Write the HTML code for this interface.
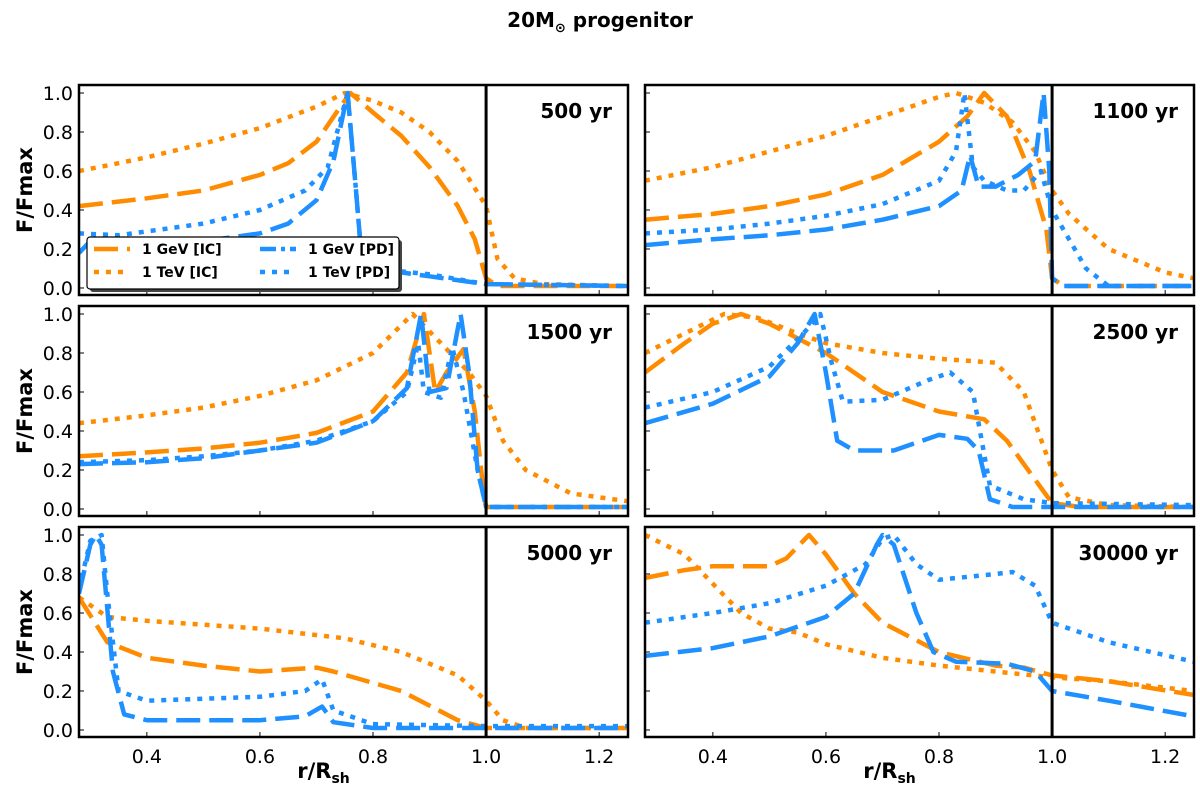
<!DOCTYPE html>
<html><head><meta charset="utf-8"><style>
html,body{margin:0;padding:0;background:#fff;width:1200px;height:794px;overflow:hidden}
svg{display:block;font-family:"DejaVu Sans","Liberation Sans",sans-serif}
</style></head><body>
<svg id="fig" width="1200" height="794"></svg>
<script>
// ---- data (r/Rsh and F/Fmax) ----
const panelTitles=["500","1100","1500","2500","5000","30000"];
const xTicks=[0.4,0.6,0.8,1.0,1.2];
const yTicks=[0.0,0.2,0.4,0.6,0.8,1.0];
// 500 yr
const a_gIC_r=[0.28,0.4,0.5,0.6,0.65,0.7,0.74,0.76,0.8,0.85,0.9,0.95,0.98,1.0,1.02,1.25];
const a_gIC_f=[0.42,0.46,0.5,0.58,0.64,0.75,0.92,1.0,0.9,0.78,0.62,0.42,0.25,0.05,0.01,0.01];
const a_tIC_r=[0.28,0.35,0.4,0.5,0.6,0.7,0.75,0.8,0.85,0.9,0.95,1.0,1.02,1.05,1.1,1.25];
const a_tIC_f=[0.6,0.64,0.67,0.74,0.82,0.93,1.0,0.96,0.9,0.8,0.65,0.42,0.15,0.05,0.02,0.01];
const a_gPD_r=[0.28,0.3,0.4,0.5,0.6,0.65,0.7,0.73,0.755,0.77,0.78,0.8,0.9,1.0,1.25];
const a_gPD_f=[0.18,0.24,0.22,0.24,0.28,0.33,0.45,0.65,1.0,0.5,0.15,0.1,0.06,0.02,0.01];
const a_tPD_r=[0.28,0.35,0.4,0.5,0.6,0.68,0.72,0.755,0.77,0.78,0.8,0.9,1.0,1.25];
const a_tPD_f=[0.28,0.27,0.29,0.33,0.4,0.5,0.62,1.0,0.5,0.14,0.1,0.07,0.02,0.01];
// 1100 yr
const b_gIC_r=[0.28,0.4,0.5,0.6,0.7,0.8,0.85,0.88,0.92,0.96,0.99,1.0,1.02,1.25];
const b_gIC_f=[0.35,0.38,0.42,0.48,0.58,0.75,0.88,1.0,0.88,0.6,0.3,0.05,0.01,0.01];
const b_tIC_r=[0.28,0.4,0.5,0.6,0.7,0.8,0.83,0.88,0.93,0.97,1.0,1.03,1.1,1.2,1.25];
const b_tIC_f=[0.55,0.62,0.7,0.78,0.88,0.98,1.0,0.95,0.85,0.7,0.5,0.38,0.2,0.08,0.05];
const b_gPD_r=[0.28,0.4,0.5,0.6,0.7,0.8,0.84,0.855,0.87,0.9,0.94,0.97,0.985,0.995,1.0,1.02,1.25];
const b_gPD_f=[0.22,0.25,0.27,0.3,0.35,0.42,0.5,0.68,0.52,0.52,0.58,0.65,1.0,0.6,0.05,0.01,0.01];
const b_tPD_r=[0.28,0.4,0.5,0.6,0.7,0.8,0.83,0.845,0.86,0.88,0.92,0.95,0.98,1.0,1.03,1.06,1.1,1.25];
const b_tPD_f=[0.28,0.3,0.33,0.37,0.43,0.55,0.7,1.0,0.62,0.55,0.5,0.5,0.6,0.4,0.25,0.1,0.01,0.01];
// 1500 yr
const c_gIC_r=[0.28,0.4,0.5,0.6,0.7,0.8,0.86,0.89,0.91,0.93,0.96,0.98,0.995,1.0,1.25];
const c_gIC_f=[0.27,0.29,0.31,0.34,0.39,0.5,0.7,1.0,0.6,0.7,0.82,0.5,0.1,0.01,0.01];
const c_tIC_r=[0.28,0.4,0.5,0.6,0.7,0.8,0.87,0.92,0.97,1.0,1.03,1.07,1.15,1.25];
const c_tIC_f=[0.44,0.48,0.52,0.58,0.66,0.8,1.0,0.85,0.7,0.58,0.35,0.2,0.08,0.04];
const c_gPD_r=[0.28,0.4,0.5,0.6,0.7,0.8,0.86,0.885,0.9,0.93,0.955,0.97,0.985,1.0,1.25];
const c_gPD_f=[0.23,0.24,0.26,0.3,0.34,0.45,0.62,1.0,0.6,0.62,1.0,0.7,0.2,0.01,0.01];
const c_tPD_r=[0.28,0.4,0.5,0.6,0.7,0.8,0.86,0.88,0.89,0.92,0.94,0.96,0.985,1.0,1.25];
const c_tPD_f=[0.24,0.25,0.27,0.3,0.35,0.45,0.6,0.85,0.6,0.57,0.83,0.6,0.2,0.01,0.01];
// 2500 yr
const d_gIC_r=[0.28,0.35,0.4,0.45,0.5,0.6,0.7,0.8,0.88,0.92,0.97,1.0,1.05,1.25];
const d_gIC_f=[0.7,0.85,0.95,1.0,0.95,0.8,0.6,0.5,0.46,0.35,0.15,0.03,0.01,0.01];
const d_tIC_r=[0.28,0.35,0.42,0.48,0.55,0.6,0.7,0.8,0.9,0.95,1.0,1.03,1.1,1.25];
const d_tIC_f=[0.8,0.9,1.0,0.98,0.9,0.85,0.8,0.77,0.75,0.6,0.2,0.06,0.02,0.01];
const d_gPD_r=[0.28,0.4,0.5,0.55,0.58,0.6,0.62,0.65,0.72,0.8,0.85,0.87,0.89,0.93,1.25];
const d_gPD_f=[0.44,0.54,0.68,0.85,1.0,0.7,0.35,0.3,0.3,0.38,0.36,0.3,0.05,0.01,0.01];
const d_tPD_r=[0.28,0.4,0.5,0.56,0.59,0.61,0.63,0.7,0.78,0.82,0.86,0.89,0.95,1.0,1.25];
const d_tPD_f=[0.52,0.6,0.73,0.9,1.0,0.75,0.55,0.56,0.66,0.7,0.6,0.12,0.05,0.03,0.02];
// 5000 yr
const e_gIC_r=[0.28,0.33,0.4,0.5,0.6,0.7,0.73,0.85,0.95,1.0,1.25];
const e_gIC_f=[0.68,0.45,0.37,0.33,0.3,0.32,0.3,0.2,0.05,0.01,0.01];
const e_tIC_r=[0.28,0.33,0.4,0.6,0.75,0.85,0.95,1.0,1.03,1.07,1.25];
const e_tIC_f=[0.68,0.58,0.56,0.52,0.47,0.4,0.28,0.15,0.05,0.01,0.01];
const e_gPD_r=[0.28,0.3,0.31,0.32,0.34,0.36,0.4,0.6,0.68,0.71,0.73,0.8,1.25];
const e_gPD_f=[0.7,0.95,1.0,0.95,0.3,0.08,0.05,0.05,0.07,0.12,0.04,0.01,0.01];
const e_tPD_r=[0.28,0.3,0.32,0.33,0.35,0.4,0.6,0.68,0.71,0.73,0.8,1.0,1.25];
const e_tPD_f=[0.72,0.97,1.0,0.7,0.2,0.15,0.17,0.2,0.26,0.1,0.03,0.02,0.02];
// 30000 yr
const f_gIC_r=[0.28,0.35,0.4,0.5,0.53,0.57,0.6,0.65,0.7,0.8,0.9,0.95,1.0,1.1,1.25];
const f_gIC_f=[0.78,0.82,0.84,0.84,0.88,1.0,0.9,0.7,0.55,0.4,0.33,0.32,0.28,0.25,0.18];
const f_tIC_r=[0.28,0.35,0.4,0.45,0.5,0.55,0.6,0.7,0.8,0.9,1.0,1.1,1.25];
const f_tIC_f=[1.0,0.9,0.75,0.6,0.52,0.5,0.44,0.37,0.33,0.3,0.27,0.25,0.2];
const f_gPD_r=[0.28,0.4,0.5,0.6,0.65,0.69,0.7,0.72,0.76,0.79,0.83,0.92,0.97,1.0,1.1,1.25];
const f_gPD_f=[0.38,0.42,0.48,0.58,0.7,0.95,1.0,0.95,0.6,0.4,0.35,0.34,0.3,0.2,0.15,0.07];
const f_tPD_r=[0.28,0.4,0.5,0.6,0.67,0.7,0.72,0.76,0.8,0.9,0.93,0.97,1.0,1.1,1.25];
const f_tPD_f=[0.55,0.6,0.65,0.74,0.85,0.98,1.0,0.85,0.77,0.8,0.81,0.74,0.55,0.45,0.35];

const panelSeries=[
 [[a_gIC_r,a_gIC_f],[a_tIC_r,a_tIC_f],[a_gPD_r,a_gPD_f],[a_tPD_r,a_tPD_f]],
 [[b_gIC_r,b_gIC_f],[b_tIC_r,b_tIC_f],[b_gPD_r,b_gPD_f],[b_tPD_r,b_tPD_f]],
 [[c_gIC_r,c_gIC_f],[c_tIC_r,c_tIC_f],[c_gPD_r,c_gPD_f],[c_tPD_r,c_tPD_f]],
 [[d_gIC_r,d_gIC_f],[d_tIC_r,d_tIC_f],[d_gPD_r,d_gPD_f],[d_tPD_r,d_tPD_f]],
 [[e_gIC_r,e_gIC_f],[e_tIC_r,e_tIC_f],[e_gPD_r,e_gPD_f],[e_tPD_r,e_tPD_f]],
 [[f_gIC_r,f_gIC_f],[f_tIC_r,f_tIC_f],[f_gPD_r,f_gPD_f],[f_tPD_r,f_tPD_f]]
];
const seriesNames=["gev-ic","tev-ic","gev-pd","tev-pd"];
const ORANGE="#ff8c00",BLUE="#1e90ff";
const seriesColor=[ORANGE,ORANGE,BLUE,BLUE];
const seriesDash=["24,9","5,7","24,9","5,7"];

const NS="http://www.w3.org/2000/svg";
const svg=document.getElementById('fig');
function mk(tag,attrs,parent){const e=document.createElementNS(NS,tag);for(const k in attrs)e.setAttribute(k,attrs[k]);(parent||svg).appendChild(e);return e;}

const XMIN=0.28,XMAX=1.251,YMIN=-0.036,YMAX=1.041;
const PW=549,PH=210;
const lefts=[79,645],tops=[85,306,527];

let t=mk('text',{x:600,y:27,'text-anchor':'middle','font-size':20,'font-weight':'bold'});


t.innerHTML='20M<tspan font-size="13" dy="5">⊙</tspan><tspan dy="-5"> progenitor</tspan>';

panelSeries.forEach((series,i)=>{
  const col=i%2,row=Math.floor(i/2);
  const L=lefts[col],T=tops[row];
  const sx=v=>L+(v-XMIN)/(XMAX-XMIN)*PW;
  const sy=v=>T+PH-(v-YMIN)/(YMAX-YMIN)*PH;
  const g=mk('g',{});
  
  
  const cid='clip'+i;
  const cp=mk('clipPath',{id:cid},g);mk('rect',{x:L,y:T,width:PW,height:PH},cp);
  xTicks.forEach(v=>{
    const x=sx(v);
    const tk=mk('line',{x1:x,x2:x,y1:T+PH,y2:T+PH-5,stroke:'#000','stroke-width':1},g);
    
    
    if(row===2){
      const tl=mk('text',{x:x,y:T+PH+26,'text-anchor':'middle','font-size':19},g);
      
      
      tl.textContent=v.toFixed(1);
    }
  });
  yTicks.forEach(v=>{
    const y=sy(v);
    const tk=mk('line',{x1:L,x2:L+5,y1:y,y2:y,stroke:'#000','stroke-width':1},g);
    
    
    if(col===0){
      const tl=mk('text',{x:L-6,y:y+7,'text-anchor':'end','font-size':19},g);
      
      
      tl.textContent=v.toFixed(1);
    }
  });
  series.forEach((s,k)=>{
    const [rs,fs]=s;
    const d=rs.map((r,j)=>(j?'L':'M')+sx(r).toFixed(1)+','+sy(fs[j]).toFixed(1)).join('');
    const p=mk('path',{d:d,fill:'none',stroke:seriesColor[k],'stroke-width':4.5,'stroke-dasharray':seriesDash[k],'stroke-linejoin':'round','clip-path':'url(#'+cid+')'},g);
    
    
  });
  const vl=mk('line',{x1:sx(1.0),x2:sx(1.0),y1:T,y2:T+PH,stroke:'#000','stroke-width':3},g);
  
  
  const fr=mk('rect',{x:L,y:T,width:PW,height:PH,fill:'none',stroke:'#000','stroke-width':2.5},g);
  
  
  const lab=mk('text',{x:L+PW-16,y:T+33,'text-anchor':'end','font-size':20,'font-weight':'bold'},g);
  
  
  lab.textContent=panelTitles[i]+' yr';
  if(row===2){
    const xl=mk('text',{x:L+PW/2-30,y:778,'text-anchor':'middle','font-size':21,'font-weight':'bold'},g);
    
    
    xl.innerHTML='r/R<tspan font-size="14" dy="5">sh</tspan>';
  }
  if(col===0){
    const yl=mk('text',{x:0,y:0,'text-anchor':'middle','font-size':21,'font-weight':'bold',transform:'translate(32,'+(T+PH/2)+') rotate(-90)'},g);
    
    
    yl.textContent='F/Fmax';
  }
});

const lg=mk('g',{});


mk('rect',{x:90,y:240,width:312,height:52,fill:'#444',rx:3},lg);
mk('rect',{x:87,y:237,width:312,height:52,fill:'#fff',stroke:'#000','stroke-width':1.2,rx:3},lg);
const legItems=[["1 GeV [IC]",0,92,254],["1 TeV [IC]",1,92,277],["1 GeV [PD]",2,258,254],["1 TeV [PD]",3,258,277]];
legItems.forEach(it=>{
  const [txt,k,x,y]=it;
  const ln=mk('line',{x1:x+2,x2:x+38,y1:y-5,y2:y-5,stroke:seriesColor[k],'stroke-width':4.5,'stroke-dasharray':k===2?'16,5,4,5':seriesDash[k]},lg);
  
  
  const tx=mk('text',{x:x+50,y:y,'font-size':14,'font-weight':'bold'},lg);
  
  
  tx.textContent=txt;
});
</script>
</body></html>
